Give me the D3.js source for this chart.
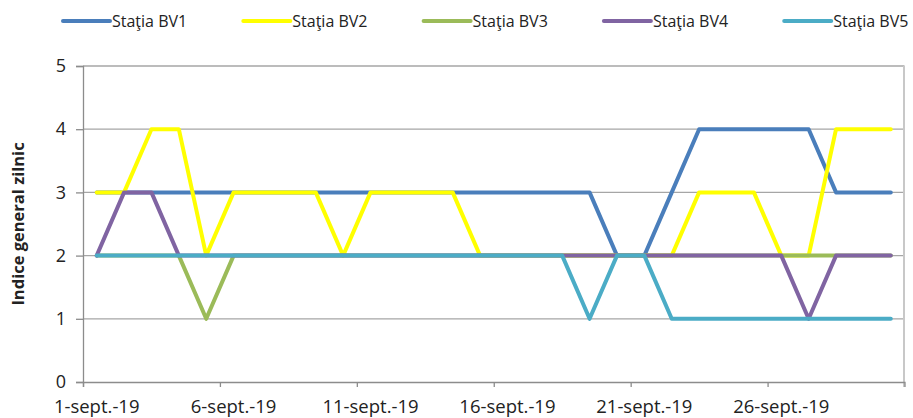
<!DOCTYPE html>
<html>
<head>
<meta charset="utf-8">
<script src="https://d3js.org/d3.v7.min.js"></script>
<style>
    body { margin: 0; background: #fff; }
    text { font-family: "Open Sans", "Liberation Sans", Arial, sans-serif; fill: #222; }
</style>
</head>
<body>
<div id="my_dataviz"></div>
<script>
// daily values, 1 to 30 September 2019
var days = d3.range(1, 31)
var seriesNames = ["Staţia BV1", "Staţia BV2", "Staţia BV3", "Staţia BV4", "Staţia BV5"]
var bv1 = [3, 3, 3, 3, 3, 3, 3, 3, 3, 3, 3, 3, 3, 3, 3, 3, 3, 3, 3, 2, 2, 3, 4, 4, 4, 4, 4, 3, 3, 3]
var bv2 = [3, 3, 4, 4, 2, 3, 3, 3, 3, 2, 3, 3, 3, 3, 2, 2, 2, 2, 2, 2, 2, 2, 3, 3, 3, 2, 2, 4, 4, 4]
var bv3 = [2, 2, 2, 2, 1, 2, 2, 2, 2, 2, 2, 2, 2, 2, 2, 2, 2, 2, 2, 2, 2, 2, 2, 2, 2, 2, 2, 2, 2, 2]
var bv4 = [2, 3, 3, 2, 2, 2, 2, 2, 2, 2, 2, 2, 2, 2, 2, 2, 2, 2, 2, 2, 2, 2, 2, 2, 2, 2, 1, 2, 2, 2]
var bv5 = [2, 2, 2, 2, 2, 2, 2, 2, 2, 2, 2, 2, 2, 2, 2, 2, 2, 2, 1, 2, 2, 1, 1, 1, 1, 1, 1, 1, 1, 1]
var seriesValues = [bv1, bv2, bv3, bv4, bv5]
var colors = ["#4a7ebb", "#ffff00", "#9bbb59", "#8064a2", "#4bacc6"]
var tickLabels = ["1-sept.-19", "6-sept.-19", "11-sept.-19", "16-sept.-19", "21-sept.-19", "26-sept.-19"]
var yTicks = [0, 1, 2, 3, 4, 5]

var width = 913,
    height = 418

var svg = d3.select("#my_dataviz")
    .append("svg")
    .attr("width", width)
    .attr("height", height)

// scales: one category per day, points in the middle of each day
var x = d3.scaleLinear()
    .domain([0, 30])
    .range([83, 904.5])

var y = d3.scaleLinear()
    .domain([0, 5])
    .range([382, 66])

// horizontal gridlines
svg.append("g")
    .selectAll("line")
    .data(yTicks.filter(function(d) { return d > 0 }))
    .enter()
    .append("line")
    .attr("x1", x(0))
    .attr("x2", x(30))
    .attr("y1", function(d) { return y(d) })
    .attr("y2", function(d) { return y(d) })
    .attr("stroke", "#a6a6a6")
    .attr("stroke-width", 1.3)

// right border of plot area
svg.append("line")
    .attr("x1", x(30) - 0.5)
    .attr("x2", x(30) - 0.5)
    .attr("y1", y(5))
    .attr("y2", y(0) + 5)
    .attr("stroke", "#c8c8c8")
    .attr("stroke-width", 2)

// Y axis
var yAxis = svg.append("g")
    .attr("transform", "translate(" + x(0) + ",0)")
    .call(d3.axisLeft(y).tickValues(yTicks).tickSize(7).tickPadding(10).tickFormat(d3.format("d")))
yAxis.select(".domain").attr("stroke", "#8c8c8c").attr("stroke-width", 1.3)
yAxis.selectAll(".tick line").attr("stroke", "#8c8c8c").attr("stroke-width", 1.3)
yAxis.selectAll("text")
    .style("font-size", "18px")
    .attr("fill", "#222")

// X axis: ticks at category boundaries every 5 days
var xAxis = svg.append("g")
    .attr("transform", "translate(0," + y(0) + ")")
    .call(d3.axisBottom(x).tickValues([0, 5, 10, 15, 20, 25]).tickSize(5).tickFormat(""))
xAxis.select(".domain").attr("stroke", "#8c8c8c").attr("stroke-width", 1.3)
xAxis.selectAll(".tick line").attr("stroke", "#8c8c8c").attr("stroke-width", 1.3)

// X labels centred under the first day of each group
svg.append("g")
    .selectAll("text")
    .data(tickLabels)
    .enter()
    .append("text")
    .attr("x", function(d, i) { return x(i * 5 + 0.5) })
    .attr("y", 413)
    .attr("text-anchor", "middle")
    .style("font-size", "18.5px")
    .text(function(d) { return d })

// Y axis label
svg.append("text")
    .attr("transform", "translate(24," + 224 + ") rotate(-90)")
    .attr("text-anchor", "middle")
    .style("font-size", "16.5px")
    .style("font-weight", "bold")
    .text("Indice general zilnic")

// lines
var line = d3.line()
    .x(function(d, i) { return x(i + 0.5) })
    .y(function(d) { return y(d) })

svg.append("g")
    .selectAll("path")
    .data(seriesValues)
    .enter()
    .append("path")
    .attr("d", line)
    .attr("fill", "none")
    .attr("stroke", function(d, i) { return colors[i] })
    .attr("stroke-width", 4)
    .attr("stroke-linejoin", "round")
    .attr("stroke-linecap", "round")

// legend
var legend = svg.append("g")
    .selectAll("g")
    .data(seriesNames)
    .enter()
    .append("g")
    .attr("transform", function(d, i) { return "translate(" + (63 + i * 180.3) + ",21)" })

legend.append("line")
    .attr("x1", 0)
    .attr("x2", 47)
    .attr("y1", 0)
    .attr("y2", 0)
    .attr("stroke", function(d, i) { return colors[i] })
    .attr("stroke-width", 4)
    .attr("stroke-linecap", "round")

legend.append("text")
    .attr("x", 49)
    .attr("y", 6)
    .style("font-size", "16px")
    .text(function(d) { return d })
</script>
</body>
</html>
